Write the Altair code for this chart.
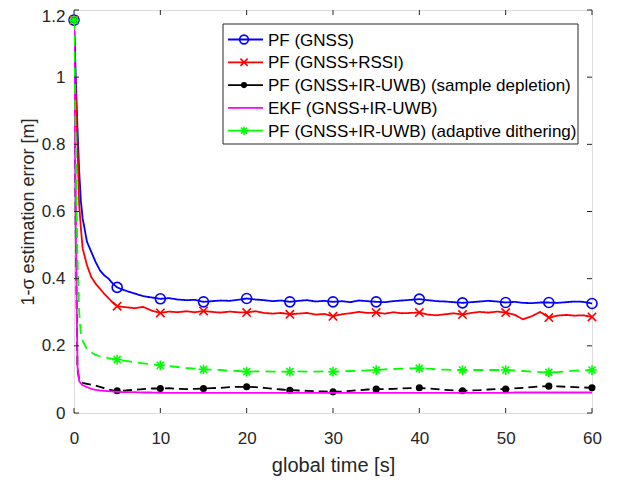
import altair as alt
import pandas as pd

# ---- data ----
t_early = [0, 0.2, 0.4, 0.6, 0.8, 1.0, 1.5, 2.0, 2.5, 3.0, 3.5, 4.0, 4.5]
t_late = list(range(5, 61))
time = t_early + t_late

pf_gnss = [1.17, 1.00, 0.85, 0.72, 0.63, 0.58, 0.51, 0.48, 0.45, 0.425, 0.41, 0.40, 0.385,
           0.374, 0.364, 0.356, 0.348, 0.344, 0.340, 0.342, 0.338, 0.336, 0.337, 0.331, 0.333,
           0.335, 0.334, 0.337, 0.341, 0.338, 0.336, 0.333, 0.335, 0.331, 0.334, 0.336, 0.332,
           0.334, 0.331, 0.333, 0.330, 0.335, 0.333, 0.331, 0.330, 0.333, 0.335, 0.337, 0.339,
           0.336, 0.333, 0.332, 0.330, 0.328, 0.330, 0.332, 0.334, 0.332, 0.329, 0.331, 0.328,
           0.327, 0.329, 0.329, 0.328, 0.330, 0.332, 0.331, 0.326]

pf_rssi = [1.17, 0.95, 0.80, 0.62, 0.55, 0.49, 0.44, 0.405, 0.385, 0.37, 0.355, 0.342, 0.328,
           0.318, 0.315, 0.312, 0.316, 0.305, 0.298, 0.302, 0.300, 0.303, 0.300, 0.304, 0.301,
           0.299, 0.302, 0.300, 0.299, 0.303, 0.298, 0.296, 0.298, 0.294, 0.296, 0.298, 0.293,
           0.295, 0.288, 0.294, 0.297, 0.301, 0.298, 0.299, 0.296, 0.300, 0.297, 0.298, 0.299,
           0.293, 0.291, 0.294, 0.297, 0.293, 0.298, 0.301, 0.299, 0.302, 0.299, 0.293, 0.279,
           0.288, 0.301, 0.284, 0.290, 0.292, 0.290, 0.291, 0.286]

pf_depletion = [1.17, 0.55, 0.13, 0.10, 0.092, 0.090, 0.087, 0.084, 0.082, 0.078, 0.074, 0.070, 0.067,
                0.066, 0.067, 0.069, 0.071, 0.073, 0.073, 0.074, 0.072, 0.071, 0.072, 0.073, 0.074,
                0.075, 0.077, 0.078, 0.078, 0.077, 0.075, 0.072, 0.070, 0.068, 0.067, 0.066, 0.065,
                0.064, 0.063, 0.064, 0.066, 0.068, 0.070, 0.071, 0.071, 0.072, 0.073, 0.074, 0.075,
                0.073, 0.071, 0.069, 0.067, 0.066, 0.067, 0.068, 0.070, 0.071, 0.071, 0.073, 0.075,
                0.077, 0.079, 0.080, 0.079, 0.078, 0.077, 0.076, 0.075]

ekf = [1.17, 0.55, 0.14, 0.095, 0.088, 0.083, 0.077, 0.072, 0.069, 0.067, 0.066, 0.065, 0.064,
       0.063, 0.062, 0.062, 0.061, 0.061, 0.060, 0.060, 0.060, 0.060, 0.060, 0.060, 0.060,
       0.060, 0.060, 0.060, 0.060, 0.060, 0.060, 0.060, 0.060, 0.060, 0.060, 0.060, 0.060,
       0.060, 0.060, 0.060, 0.060, 0.060, 0.060, 0.060, 0.060, 0.060, 0.060, 0.060, 0.060,
       0.060, 0.060, 0.060, 0.060, 0.060, 0.060, 0.060, 0.060, 0.060, 0.060, 0.061, 0.061,
       0.061, 0.061, 0.061, 0.061, 0.061, 0.061, 0.061, 0.061]

pf_dither = [1.17, 0.80, 0.46, 0.30, 0.235, 0.215, 0.19, 0.18, 0.173, 0.169, 0.166, 0.163, 0.161,
             0.159, 0.155, 0.151, 0.148, 0.145, 0.142, 0.140, 0.137, 0.134, 0.132, 0.130, 0.129,
             0.128, 0.126, 0.125, 0.123, 0.124, 0.124, 0.123, 0.123, 0.123, 0.124, 0.123, 0.123,
             0.124, 0.123, 0.124, 0.125, 0.126, 0.127, 0.128, 0.130, 0.131, 0.132, 0.133, 0.133,
             0.132, 0.130, 0.129, 0.128, 0.128, 0.128, 0.128, 0.128, 0.128, 0.128, 0.127, 0.125,
             0.123, 0.122, 0.121, 0.122, 0.124, 0.126, 0.127, 0.128]

labels = ["PF (GNSS)", "PF (GNSS+RSSI)", "PF (GNSS+IR-UWB) (sample depletion)",
          "EKF (GNSS+IR-UWB)", "PF (GNSS+IR-UWB) (adaptive dithering)"]
series_values = [pf_gnss, pf_rssi, pf_depletion, ekf, pf_dither]
colors = ["#0000ff", "#ff0000", "#000000", "#ff00ff", "#00ff00"]
dashes = [[1, 0], [1, 0], [9, 5], [1, 0], [10, 6]]
has_marker = [True, True, True, False, True]

x_ticks = [0, 10, 20, 30, 40, 50, 60]
y_ticks = [0, 0.2, 0.4, 0.6, 0.8, 1.0, 1.2]

# ---- styling ----
W, H = 518, 403
FONT = "Liberation Sans"
AX = "#262626"
marker_shapes = [
    "circle",
    "M-1,-1L1,1M-1,1L1,-1",
    "circle",
    "circle",
    "M-1,0L1,0M0,-1L0,1M-0.72,-0.72L0.72,0.72M-0.72,0.72L0.72,-0.72",
]
marker_sizes = [100, 70, 50, 50, 95]
marker_filled = [False, False, True, False, False]
LW = 1.8

xs = alt.Scale(domain=[0, 60], nice=False, zero=False)
ys = alt.Scale(domain=[0, 1.2], nice=False, zero=True)

layers = []

for i, (lab, vals) in enumerate(zip(labels, series_values)):
    df = pd.DataFrame({"t": time, "v": vals})
    line = alt.Chart(df).mark_line(
        color=colors[i], strokeWidth=LW, strokeDash=dashes[i], clip=True
    ).encode(
        x=alt.X("t:Q", scale=xs,
                axis=alt.Axis(values=x_ticks, title="global time [s]", grid=False, ticks=False,
                              domain=False, labelPadding=17, labelFontSize=17, titleFontSize=20,
                              labelFont=FONT, titleFont=FONT, labelColor=AX, titleColor=AX,
                              titleFontWeight="normal", titlePadding=9, labelFlush=False)),
        y=alt.Y("v:Q", scale=ys,
                axis=alt.Axis(values=y_ticks, title="1-σ estimation error [m]", grid=False,
                              ticks=False, domain=False, labelPadding=9, labelFontSize=17,
                              titleFontSize=18, labelFont=FONT, titleFont=FONT, labelColor=AX,
                              titleColor=AX, titleFontWeight="normal",
                              titleX=-37, titleY=H / 2, titleAngle=270,
                              titleBaseline="bottom", titleAlign="center",
                              labelFlush=False, format=".1~f",
                              labelOffset=alt.condition("datum.value > 1.1",
                                                        alt.value(6), alt.value(0)))),
        order="t:Q",
    )
    layers.append(line)
    if has_marker[i]:
        mdf = df[df["t"].isin(list(range(0, 61, 5)))]
        pt = alt.Chart(mdf).mark_point(
            shape=marker_shapes[i], size=marker_sizes[i], color=colors[i],
            filled=marker_filled[i], strokeWidth=1.6, opacity=1
        ).encode(x=alt.X("t:Q", scale=xs), y=alt.Y("v:Q", scale=ys))
        layers.append(pt)

# inward ticks on all four sides
xt = pd.DataFrame({"v": x_ticks})
yt = pd.DataFrame({"v": y_ticks})
TL = 5
layers.append(alt.Chart(xt).mark_rule(color=AX, strokeWidth=1).encode(
    x=alt.X("v:Q", scale=xs), y=alt.value(H), y2=alt.value(H - TL)))
layers.append(alt.Chart(xt).mark_rule(color=AX, strokeWidth=1).encode(
    x=alt.X("v:Q", scale=xs), y=alt.value(0), y2=alt.value(TL)))
layers.append(alt.Chart(yt).mark_rule(color=AX, strokeWidth=1).encode(
    y=alt.Y("v:Q", scale=ys), x=alt.value(0), x2=alt.value(TL)))
layers.append(alt.Chart(yt).mark_rule(color=AX, strokeWidth=1).encode(
    y=alt.Y("v:Q", scale=ys), x=alt.value(W), x2=alt.value(W - TL)))

# legend box
one = pd.DataFrame({"a": [0]})
LX0, LX1, LY0, LY1 = 149, 504, 14, 134
layers.append(alt.Chart(one).mark_rect(fill="white", stroke=AX, strokeWidth=1).encode(
    x=alt.value(LX0), x2=alt.value(LX1), y=alt.value(LY0), y2=alt.value(LY1)))
row_h = 22.8
for i, lab in enumerate(labels):
    ly = LY0 + 15.5 + i * row_h
    layers.append(alt.Chart(one).mark_rule(color=colors[i], strokeWidth=LW,
                                          strokeDash=[1, 0]).encode(
        x=alt.value(LX0 + 5), x2=alt.value(LX0 + 40), y=alt.value(ly)))
    if has_marker[i]:
        layers.append(alt.Chart(one).mark_point(
            shape=marker_shapes[i], size=marker_sizes[i] * 0.75, color=colors[i],
            filled=marker_filled[i], strokeWidth=1.6, opacity=1).encode(
            x=alt.value(LX0 + 21), y=alt.value(ly)))
    layers.append(alt.Chart(one).mark_text(
        text=lab, align="left", baseline="middle", font=FONT, fontSize=17, color="#000000"
    ).encode(x=alt.value(LX0 + 45), y=alt.value(ly + 1)))

chart = alt.layer(*layers).properties(
    width=W, height=H,
    padding={"left": 66, "top": 2, "right": 21, "bottom": 66},
    autosize="none",
).configure_view(stroke=AX, strokeWidth=1).configure(background="white")

chart.save("out.html", embed_options={"renderer": "svg", "actions": False})
